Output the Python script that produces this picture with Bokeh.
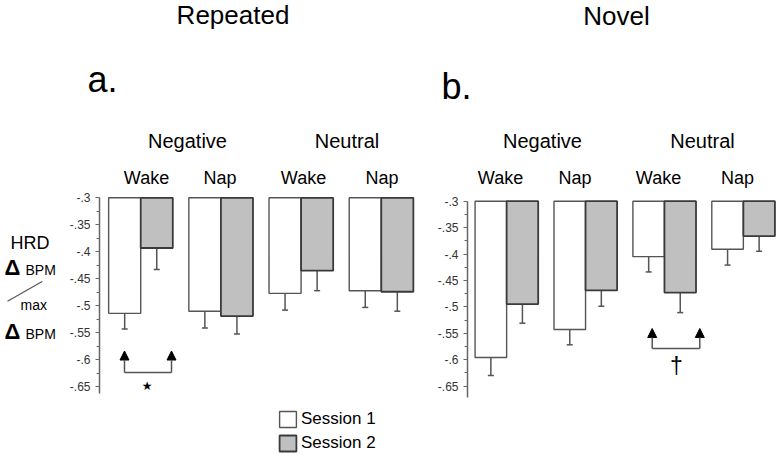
from bokeh.plotting import figure
from bokeh.models import (FactorRange, Range1d, FixedTicker, Label, Arrow, NormalHead,
                          Whisker, TeeHead, ColumnDataSource, Legend, LegendItem)
from bokeh.core.properties import value
from bokeh.layouts import row, column
from bokeh.embed import file_html
from bokeh.resources import INLINE

# ---------------- data ----------------
emotions = ["Negative", "Neutral"]
conditions = ["Wake", "Nap"]
sessions = ["Session 1", "Session 2"]
panel_titles = ["Repeated", "Novel"]
panel_letters = ["a.", "b."]

# order: Negative-Wake, Negative-Nap, Neutral-Wake, Neutral-Nap
rep_s1 = [-0.514, -0.510, -0.477, -0.472]
rep_s2 = [-0.393, -0.519, -0.435, -0.474]
rep_s1_err = [0.029, 0.031, 0.031, 0.031]
rep_s2_err = [0.040, 0.033, 0.037, 0.036]

nov_s1 = [-0.596, -0.543, -0.405, -0.391]
nov_s2 = [-0.495, -0.469, -0.473, -0.366]
nov_s1_err = [0.034, 0.029, 0.029, 0.030]
nov_s2_err = [0.036, 0.030, 0.038, 0.029]

y_ticks = [-0.3, -0.35, -0.4, -0.45, -0.5, -0.55, -0.6, -0.65]
y_tick_labels = ["-.3", "-.35", "-.4", "-.45", "-.5", "-.55", "-.6", "-.65"]
bar_top = -0.3

FONT = "Liberation Sans"
S1_FILL, S2_FILL = "white", "#c0c0c0"
SHIFT = 0.4   # baseline correction (fraction of font size)

groups = [(e, c) for e in emotions for c in conditions]
sess_keys = ["S1", "S2"]
factors = [(e, c, s) for (e, c) in groups for s in sess_keys]

W, H = 782, 463
TOP_H = 191           # height of the header strip
BOT_H = H - TOP_H     # height of the bar row


def blank_fig(width, height, x0, x1, y0, y1):
    p = figure(width=width, height=height, x_range=Range1d(x0, x1),
               y_range=Range1d(y1, y0), x_axis_location=None,
               y_axis_location=None, output_backend="svg",
               toolbar_location=None, min_border=0)
    p.outline_line_color = None
    p.grid.visible = False
    return p


def ptext(p, xs, ys, texts, size, align="center", style="normal", font=FONT):
    src = ColumnDataSource(dict(x=xs, y=[y - SHIFT * size for y in ys], text=texts))
    p.text(x="x", y="y", text="text", source=src, text_font=value(font),
           text_font_size=value(f"{size}px"), text_align=align,
           text_baseline="alphabetic", text_color="black",
           text_font_style=style)


# ---------------- header strip (titles and category labels) ----------------
top = blank_fig(W, TOP_H, 0, W, 0, TOP_H)
ptext(top, [232.5, 616], [25, 26], panel_titles, 26)
ptext(top, [87, 441], [93.5, 100], panel_letters, 36, align="left")
ptext(top, [187, 346.5, 542, 702], [148] * 4, emotions + emotions, 20)
ptext(top, [146, 219.5, 303, 381.5, 500, 574.5, 658, 737], [185] * 8,
      [c for (e, c) in groups] * 2, 18)

# ---------------- y label strip ----------------
LAB_W = 62
lab = blank_fig(LAB_W, BOT_H, 0, LAB_W, TOP_H, H)
ptext(lab, [10], [250], ["HRD"], 18, align="left")
ptext(lab, [4, 4], [275.5, 339.5], ["Δ", "Δ"], 22, align="left", style="bold")
ptext(lab, [25, 25], [275, 339], ["BPM", "BPM"], 14, align="left")
ptext(lab, [20], [310.5], ["max"], 14, align="left")
lab.segment(x0=[7], y0=[300.7], x1=[41.7], y1=[281], line_color="#555555",
            line_width=1.2)


def make_panel(width, mb_left, y_px_top, px_per_unit, axis_low, pad,
               s1, s2, e1, e2):
    xr = FactorRange(*factors, factor_padding=0, subgroup_padding=0.5,
                     group_padding=0.5, range_padding=pad,
                     range_padding_units="absolute")
    y_hi = bar_top + (y_px_top - TOP_H) / px_per_unit
    y_lo = bar_top - (H - y_px_top) / px_per_unit
    p = figure(width=width, height=BOT_H, x_range=xr,
               y_range=Range1d(y_lo, y_hi), x_axis_location=None,
               output_backend="svg", toolbar_location=None,
               min_border_left=mb_left, min_border_top=0,
               min_border_bottom=0, min_border_right=0)
    p.outline_line_color = None
    p.grid.visible = False

    minor = [(a + b) / 2 for a, b in zip(y_ticks[:-1], y_ticks[1:])]
    ax = p.yaxis[0]
    ax.bounds = (axis_low, bar_top)
    ax.ticker = FixedTicker(ticks=y_ticks, minor_ticks=minor)
    ax.major_label_overrides = dict(zip(y_ticks, y_tick_labels))
    ax.major_label_text_font = FONT
    ax.major_label_text_font_size = "12px"
    ax.major_label_text_color = "#333333"
    ax.axis_line_color = "#666666"
    ax.axis_line_width = 1.5
    ax.major_tick_line_color = "#666666"
    ax.minor_tick_line_color = "#666666"
    ax.major_tick_in = 0
    ax.major_tick_out = 4
    ax.minor_tick_in = 0
    ax.minor_tick_out = 3
    ax.major_label_standoff = 5

    rends = []
    for key, vals, errs, fill, lc, lw in [("S1", s1, e1, S1_FILL, "#555555", 1.4),
                                           ("S2", s2, e2, S2_FILL, "#3a3a3a", 1.8)]:
        xs = [(e, c, key) for (e, c) in groups]
        src = ColumnDataSource(dict(x=xs, val=vals,
                                    lower=[v - er for v, er in zip(vals, errs)]))
        r = p.vbar(x="x", top=bar_top, bottom="val", width=1.0, source=src,
                   fill_color=fill, line_color=lc, line_width=lw)
        rends.append(r)
        p.add_layout(Whisker(base="x", upper="val", lower="lower", source=src,
                             line_color="#555555", line_width=1.5, upper_head=None,
                             lower_head=TeeHead(size=6, line_color="#555555",
                                                line_width=1.5)))
    return p, rends


def add_label(p, L, X, Y, text, size, font=FONT):
    p.add_layout(Label(x=X - L, y=H - (Y - SHIFT * size), x_units="screen",
                       y_units="screen", text=text, text_font=font,
                       text_font_size=f"{size}px", text_align="center",
                       text_baseline="alphabetic", text_color="black"))


def add_line(p, L, X1, Y1, X2, Y2, head=False):
    end = NormalHead(size=9, fill_color="black", line_color="black") if head else None
    p.add_layout(Arrow(x_start=X1 - L, y_start=H - Y1, x_end=X2 - L, y_end=H - Y2,
                       start_units="screen", end_units="screen", end=end,
                       line_color="#555555", line_width=1.5))


# ---------------- left panel (Repeated) ----------------
L1 = 99
P1_W = 422 - LAB_W
p1, r1 = make_panel(P1_W, L1 - LAB_W, 197.3, 540.0, -0.663, 0.285,
                    rep_s1, rep_s2, rep_s1_err, rep_s2_err)
add_line(p1, L1, 124, 372, 124, 350.5, head=True)
add_line(p1, L1, 171, 372, 171, 350.5, head=True)
add_line(p1, L1, 124, 372, 171, 372)
add_label(p1, L1, 146.7, 390, "★", 12, font="DejaVu Sans")

legend = Legend(items=[LegendItem(label=sessions[0], renderers=[r1[0]]),
                       LegendItem(label=sessions[1], renderers=[r1[1]])],
                location=(277 - L1, H - 453), orientation="vertical",
                glyph_width=21, glyph_height=20, label_height=20,
                label_standoff=3, spacing=4, padding=0, margin=0,
                border_line_color=None, background_fill_alpha=0,
                label_text_font=FONT, label_text_font_size="17px",
                label_text_color="black")
p1.add_layout(legend)

# ---------------- right panel (Novel) ----------------
L2 = 467
P2_W = W - 422
p2, r2 = make_panel(P2_W, L2 - 422, 200.7, 528.0, -0.671, 0.24,
                    nov_s1, nov_s2, nov_s1_err, nov_s2_err)
add_line(p2, L2, 651.7, 348, 651.7, 328, head=True)
add_line(p2, L2, 699.3, 348, 699.3, 328, head=True)
add_line(p2, L2, 651.7, 348, 699.3, 348)
add_label(p2, L2, 676, 375, "†", 23)

layout = column(top, row(lab, p1, p2))
open("out.html", "w").write(file_html(layout, INLINE))
